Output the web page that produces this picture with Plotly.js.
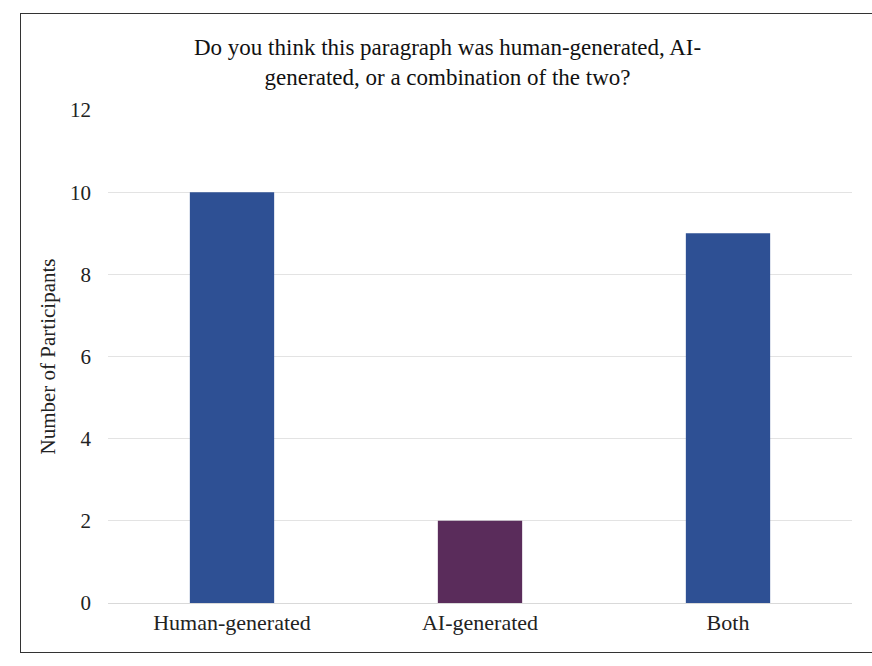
<!DOCTYPE html>
<html>
<head>
<meta charset="utf-8">
<script src="https://cdn.plot.ly/plotly-3.0.1.min.js"></script>
<style>
html,body{margin:0;padding:0;background:#fff;}
#wrap{position:relative;width:872px;height:666px;}
#chart{position:absolute;left:0;top:0;width:872px;height:666px;}
#frame{position:absolute;left:20px;top:13px;width:870px;height:638px;border:1.5px solid #333;pointer-events:none;}
</style>
</head>
<body>
<div id="wrap"><div id="chart"></div><div id="frame"></div></div>
<script>
const categories = ["Human-generated", "AI-generated", "Both"];
const participants = [10, 2, 9];
const barColors = ["#2e5094", "#5a2c5b", "#2e5094"];
const yTicks = [0, 2, 4, 6, 8, 10, 12];
const chartTitle = "Do you think this paragraph was human-generated, AI-<br>generated, or a combination of the two?";

const SERIF = "Liberation Serif, Times New Roman, serif";

const trace = {
  type: "bar",
  x: categories,
  y: participants,
  marker: {color: barColors},
  width: 0.34,
  hoverinfo: "x+y"
};

const layout = {
  width: 872, height: 666,
  paper_bgcolor: "rgba(0,0,0,0)",
  plot_bgcolor: "rgba(0,0,0,0)",
  margin: {l: 108, r: 20, t: 110, b: 63},
  font: {family: SERIF, color: "#222"},
  annotations: [{
    text: chartTitle,
    xref: "paper", yref: "paper",
    x: 0.456, y: 1.0, xanchor: "center", yanchor: "bottom",
    yshift: 18,
    showarrow: false,
    align: "center",
    font: {family: SERIF, size: 23, color: "#111"}
  }],
  xaxis: {
    tickfont: {family: SERIF, size: 22, color: "#222"},
    showline: true, linecolor: "#d9d9d9", linewidth: 1,
    ticks: "", showgrid: false
  },
  yaxis: {
    range: [0, 12],
    tickvals: yTicks,
    tickfont: {family: SERIF, size: 21, color: "#222"},
    gridcolor: "#e3e3e3", gridwidth: 1,
    zeroline: false, showline: false, ticks: "",
    ticklabelstandoff: 16,
    title: {text: "Number of Participants", font: {family: SERIF, size: 21, color: "#222"}, standoff: 8}
  },
  showlegend: false
};

Plotly.newPlot("chart", [trace], layout, {displayModeBar: false, staticPlot: true});
</script>
</body>
</html>
